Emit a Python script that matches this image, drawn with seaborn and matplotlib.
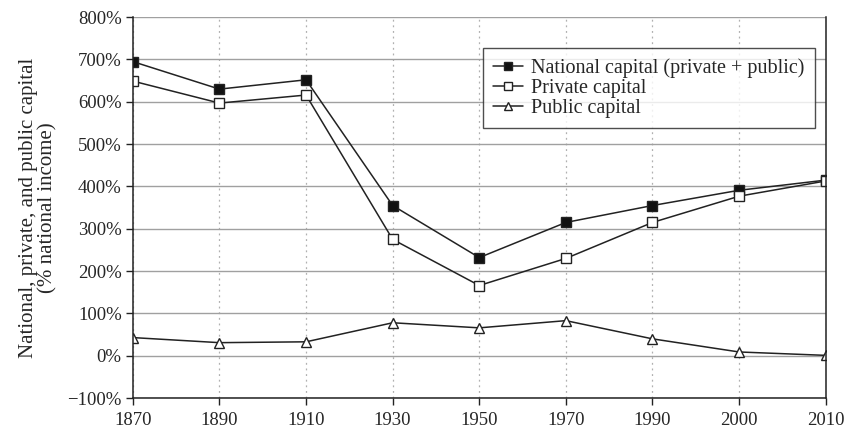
import seaborn as sns
import matplotlib.pyplot as plt
import pandas as pd
import numpy as np

# --- Data (% of national income) ---
years = ["1870", "1890", "1910", "1930", "1950", "1970", "1990", "2000", "2010"]
national = [695, 630, 652, 355, 232, 315, 355, 391, 415]
private = [649, 597, 616, 275, 166, 230, 315, 377, 413]
public = [43, 31, 33, 78, 66, 83, 40, 9, 1]

pos = np.arange(len(years))
df = pd.DataFrame({"pos": pos, "national": national, "private": private, "public": public})

# --- Styling ---
sns.set_style("white")
plt.rcParams["font.family"] = ["Liberation Serif", "DejaVu Serif"]

fig = plt.figure(figsize=(8.46, 4.29), dpi=100)
ax = fig.add_axes([0.157, 0.072, 0.819, 0.888])

ax.set_axisbelow(True)
ax.grid(axis="y", color="#a0a0a0", linewidth=1.0, linestyle="-")
ax.grid(axis="x", color="#b0b0b0", linewidth=0.9, linestyle=(0, (1.5, 3)))

line_kw = dict(color="#222222", linewidth=1.1, markersize=7.5, markeredgecolor="#222222",
               markeredgewidth=1.0)
sns.lineplot(data=df, x="pos", y="national", marker="s", markerfacecolor="#111111",
             label="National capital (private + public)", ax=ax, **line_kw)
sns.lineplot(data=df, x="pos", y="private", marker="s", markerfacecolor="white",
             label="Private capital", ax=ax, **line_kw)
sns.lineplot(data=df, x="pos", y="public", marker="^", markerfacecolor="white",
             label="Public capital", ax=ax, **line_kw)

ax.set_xlim(0, len(years) - 1)
ax.set_ylim(-100, 800)
ax.set_xticks(pos)
ax.set_xticklabels(years, fontsize=13.5)
yt = np.arange(-100, 801, 100)
ax.set_yticks(yt)
ax.set_yticklabels([f"{v}%" if v >= 0 else f"\u2212{-v}%" for v in yt], fontsize=13.5)
ax.tick_params(axis="both", direction="out", length=5, width=1, color="#222222",
               left=True, bottom=True, pad=3)
ax.tick_params(axis="x", pad=5)

ax.set_xlabel("")
ax.set_ylabel("National, private, and public capital\n(% national income)",
              fontsize=15, linespacing=1.05, labelpad=7)

for side in ["left", "bottom", "right"]:
    ax.spines[side].set_color("#222222")
    ax.spines[side].set_linewidth(1.1)
ax.spines["top"].set_visible(False)

leg = ax.legend(loc="upper right", bbox_to_anchor=(0.984, 0.919), fontsize=14.5,
                frameon=True, fancybox=False, edgecolor="#222222", handlelength=1.5,
                handletextpad=0.4, labelspacing=0.05, borderpad=0.5, borderaxespad=0)
leg.get_frame().set_linewidth(1.0)
for h in leg.legend_handles:
    h.set_markersize(6)

plt.savefig("out.png", dpi=100)
plt.close()
